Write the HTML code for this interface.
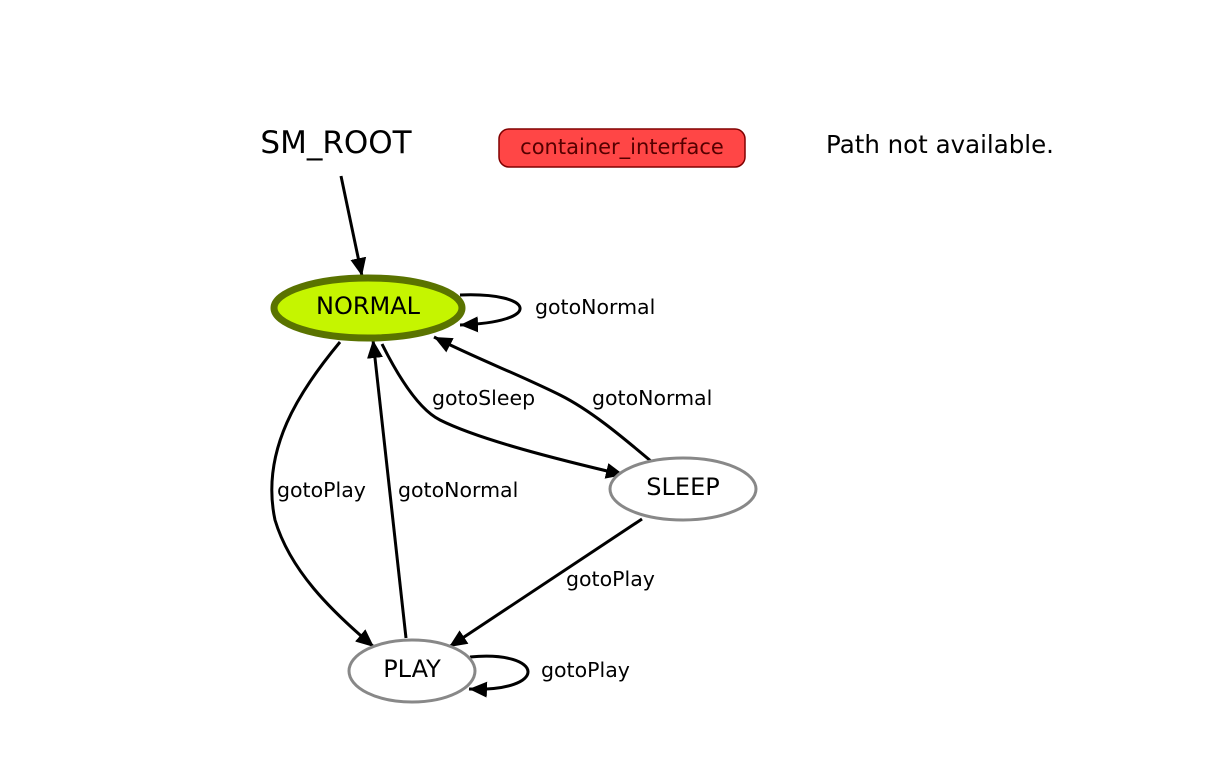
<!DOCTYPE html>
<html><head><style>
html,body{margin:0;padding:0;background:#fff;width:1207px;height:763px;overflow:hidden}
svg{display:block}
text{font-family:"DejaVu Sans","Liberation Sans",sans-serif;fill:#000}
</style></head><body>
<svg width="1207" height="763" viewBox="0 0 1207 763" xmlns="http://www.w3.org/2000/svg">
<defs>
<marker id="a" markerUnits="userSpaceOnUse" markerWidth="20" markerHeight="18" refX="18" refY="9" orient="auto">
<polygon points="0,1 18,9 0,17" fill="#000"/>
</marker>
</defs>
<text x="336" y="153" font-size="31" text-anchor="middle">SM_ROOT</text>
<rect x="499" y="129" width="246" height="38" rx="10" fill="#ff4646" stroke="#800000" stroke-width="1.5"/>
<text x="622" y="154" font-size="21" text-anchor="middle" style="fill:#500">container_interface</text>
<text x="940" y="153" font-size="24.5" text-anchor="middle">Path not available.</text>

<g fill="none" stroke="#000" stroke-width="3">
<path d="M341,176 L362,276" marker-end="url(#a)"/>
<path d="M460,295 C535,292 545,322 460,325" marker-end="url(#a)"/>
<path d="M340,342 C300,390 260,450 275,520 C290,570 330,610 374,647" marker-end="url(#a)"/>
<path d="M406,638 L373,340" marker-end="url(#a)"/>
<path d="M382,344 C400,380 420,410 440,420 C480,440 560,460 624,475" marker-end="url(#a)"/>
<path d="M652,462 C620,435 590,410 560,395 C520,375 475,358 434,337" marker-end="url(#a)"/>
<path d="M642,519 L449,647" marker-end="url(#a)"/>
<path d="M470,657 C545,650 550,692 469,689" marker-end="url(#a)"/>
</g>

<ellipse cx="368" cy="308" rx="94" ry="30" fill="#c5f500" stroke="#5a7300" stroke-width="7"/>
<text x="368" y="314" font-size="24" text-anchor="middle">NORMAL</text>
<ellipse cx="683" cy="489" rx="73" ry="31" fill="#fff" stroke="#888" stroke-width="3"/>
<text x="683" y="495" font-size="24" text-anchor="middle">SLEEP</text>
<ellipse cx="412" cy="671" rx="63" ry="31" fill="#fff" stroke="#888" stroke-width="3"/>
<text x="412" y="677" font-size="24" text-anchor="middle">PLAY</text>

<g font-size="20.5">
<text x="535" y="314">gotoNormal</text>
<text x="432" y="405">gotoSleep</text>
<text x="592" y="405">gotoNormal</text>
<text x="277" y="497">gotoPlay</text>
<text x="398" y="497">gotoNormal</text>
<text x="566" y="586">gotoPlay</text>
<text x="541" y="677">gotoPlay</text>
</g>
</svg>
</body></html>
